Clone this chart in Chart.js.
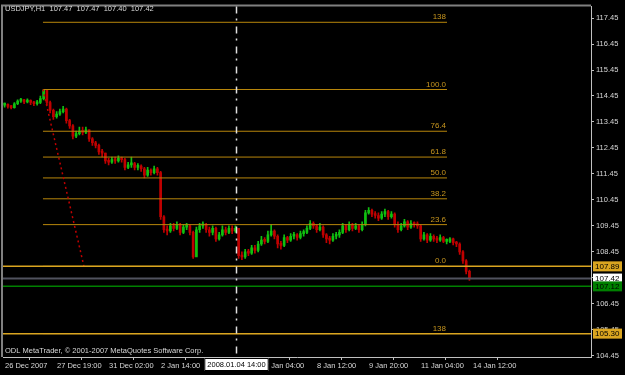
<!DOCTYPE html>
<html>
<head>
<meta charset="utf-8">
<script src="https://cdn.jsdelivr.net/npm/chart.js@4.4.1/dist/chart.umd.min.js"></script>
<style>
  body { margin: 0; background: #000; }
  #wrap { width: 625px; height: 375px; }
</style>
</head>
<body>
<div id="wrap"><canvas id="chart"></canvas></div>
<script>
// USDJPY H1, one bar per 2 hours
const closes = [
  114.12, 114.05, 114.00, 114.15, 114.25, 114.30, 114.22, 114.28, 114.20, 114.15,
  114.20, 114.35, 114.68, 114.20, 113.90, 113.65, 113.75, 113.85, 113.95, 113.50,
  113.30, 112.90, 113.00, 113.10, 113.05, 113.15, 112.80, 112.65, 112.55, 112.30,
  112.25, 111.95, 111.90, 112.00, 111.95, 112.05, 112.00, 111.70, 111.80, 111.85,
  111.70, 111.75, 111.65, 111.40, 111.60, 111.50, 111.65, 111.50, 109.80, 109.30,
  109.25, 109.45, 109.35, 109.50, 109.20, 109.40, 109.45, 109.20, 108.25, 109.30,
  109.45, 109.50, 109.30, 109.20, 109.35, 108.95, 109.10, 109.30, 109.20, 109.35,
  109.25, 109.35, 108.30, 108.25, 108.45, 108.40, 108.60, 108.50, 108.75, 108.90,
  108.85, 109.10, 109.25, 109.05, 108.75, 108.70, 109.00, 108.90, 109.05, 109.10,
  109.00, 109.15, 109.20, 109.35, 109.55, 109.45, 109.30, 109.40, 109.10, 108.95,
  108.90, 109.05, 109.10, 109.20, 109.45, 109.30, 109.50, 109.35, 109.45, 109.30,
  109.50, 109.95, 110.05, 109.90, 109.85, 109.75, 109.90, 110.00, 109.80, 109.90,
  109.50, 109.30, 109.45, 109.60, 109.40, 109.55, 109.50, 109.45, 108.95, 109.10,
  108.90, 109.05, 108.95, 108.90, 109.00, 108.85, 108.85, 108.95, 108.80, 108.75,
  108.45, 108.10, 107.70, 107.42
];
const highs = [
  114.18, 114.15, 114.08, 114.20, 114.30, 114.36, 114.32, 114.34, 114.30, 114.24,
  114.28, 114.45, 114.70, 114.68, 114.25, 113.95, 113.85, 113.95, 114.05, 113.98,
  113.55, 113.35, 113.10, 113.25, 113.25, 113.25, 113.15, 112.85, 112.70, 112.60,
  112.40, 112.25, 112.05, 112.10, 112.10, 112.15, 112.10, 112.05, 111.90, 112.10,
  111.90, 111.85, 111.80, 111.70, 111.70, 111.65, 111.75, 111.70, 111.55, 109.85,
  109.45, 109.55, 109.55, 109.60, 109.55, 109.50, 109.55, 109.50, 109.25, 109.40,
  109.55, 109.60, 109.55, 109.40, 109.45, 109.40, 109.20, 109.45, 109.40, 109.45,
  109.45, 109.45, 109.35, 108.45, 108.55, 108.55, 108.70, 108.70, 108.85, 109.05,
  109.00, 109.25, 109.50, 109.30, 109.10, 108.85, 109.10, 109.05, 109.15, 109.20,
  109.15, 109.25, 109.30, 109.45, 109.65, 109.60, 109.50, 109.55, 109.45, 109.15,
  109.05, 109.15, 109.20, 109.30, 109.55, 109.50, 109.60, 109.55, 109.55, 109.50,
  109.60, 110.05, 110.15, 110.10, 110.00, 109.95, 110.00, 110.10, 110.05, 110.00,
  109.95, 109.60, 109.55, 109.70, 109.65, 109.65, 109.60, 109.60, 109.50, 109.20,
  109.15, 109.15, 109.10, 109.05, 109.10, 109.05, 108.95, 109.00, 108.98, 108.85,
  108.80, 108.50, 108.15, 107.75
];
const lows = [
  114.02, 113.98, 113.95, 113.98, 114.12, 114.20, 114.15, 114.18, 114.12, 114.08,
  114.10, 114.15, 114.30, 114.10, 113.80, 113.55, 113.60, 113.70, 113.80, 113.40,
  113.20, 112.80, 112.85, 112.95, 112.95, 113.00, 112.70, 112.55, 112.45, 112.20,
  112.10, 111.85, 111.80, 111.85, 111.85, 111.90, 111.90, 111.60, 111.65, 111.70,
  111.60, 111.60, 111.55, 111.30, 111.35, 111.40, 111.45, 111.40, 109.70, 109.20,
  109.10, 109.20, 109.25, 109.30, 109.10, 109.15, 109.30, 109.10, 108.20, 108.30,
  109.20, 109.35, 109.20, 109.05, 109.10, 108.85, 108.90, 109.05, 109.10, 109.15,
  109.15, 109.20, 108.20, 108.15, 108.20, 108.30, 108.35, 108.40, 108.45, 108.70,
  108.75, 108.80, 109.05, 108.95, 108.60, 108.55, 108.65, 108.80, 108.85, 108.95,
  108.90, 108.95, 109.05, 109.15, 109.30, 109.35, 109.20, 109.25, 109.00, 108.80,
  108.75, 108.85, 108.95, 109.00, 109.15, 109.20, 109.25, 109.25, 109.30, 109.20,
  109.25, 109.45, 109.90, 109.80, 109.75, 109.65, 109.70, 109.80, 109.70, 109.75,
  109.40, 109.20, 109.25, 109.40, 109.30, 109.35, 109.40, 109.35, 108.85, 108.90,
  108.80, 108.85, 108.85, 108.80, 108.85, 108.80, 108.75, 108.80, 108.72, 108.65,
  108.35, 108.00, 107.60, 107.35
];
const firstOpen = 114.10;

// axis labels
const timeTicks = [-0.5, 15.5, 31.5, 47.5, 63.5, 79.5, 95.5, 111.5, 127.5, 143.5];
const timeLabels = ['26 Dec 2007', '27 Dec 19:00', '31 Dec 02:00', '2 Jan 14:00', '3 Jan 22:00',
  '7 Jan 04:00', '8 Jan 12:00', '9 Jan 20:00', '11 Jan 04:00', '14 Jan 12:00'];
const priceTicks = [104.45, 105.45, 106.45, 107.45, 108.45, 109.45, 110.45, 111.45,
  112.45, 113.45, 114.45, 115.45, 116.45, 117.45];

// fibo retracement
const fibHigh = 114.70;
const fibLow = 107.89;
const fibRatios = [0, 0.236, 0.382, 0.5, 0.618, 0.764, 1, 1.38, -0.38];
const fibLabels = ['0.0', '23.6', '38.2', '50.0', '61.8', '76.4', '100.0', '138', '138'];
const fibFrom = 11.8;
const fibTo = 136.1;

// horizontal lines with price tags
const hLinePrices = [107.89, 105.30, 107.42, 107.12];
const hLineColors = ['#daa520', '#daa520', '#50525e', '#008000'];
const hTagColors = ['#daa520', '#daa520', '#ffffff', '#008000'];

// trend line and vertical line
const trendX = [11.8, 24.4];
const trendY = [114.70, 107.89];
const vLineAt = 71.2;
const vLineLabel = '2008.01.04 14:00';

const X_MIN = -0.5, X_MAX = 180.4;
const Y_MIN = 104.40, Y_MAX = 117.896;

const opens = closes.map((c, i) => i === 0 ? firstOpen : closes[i - 1]);
const bodies = closes.map((c, i) => ({ x: i, y: [opens[i], c] }));
const wicks = closes.map((c, i) => ({ x: i, y: [lows[i], highs[i]] }));
const candleColors = closes.map((c, i) => c >= opens[i] ? '#10c010' : '#c00000');

const fibLevels = fibRatios.map(r => fibLow + (fibHigh - fibLow) * r);

const datasets = [];
fibLevels.forEach(lv => {
  datasets.push({
    type: 'line', order: 2,
    data: [{ x: fibFrom, y: lv }, { x: fibTo, y: lv }],
    borderColor: '#b8860b', borderWidth: 1, pointRadius: 0
  });
});
hLinePrices.forEach((p, i) => {
  datasets.push({
    type: 'line', order: 1,
    data: [{ x: X_MIN, y: p }, { x: X_MAX, y: p }],
    borderColor: hLineColors[i], borderWidth: i === 2 ? 2 : 1.5, pointRadius: 0
  });
});
datasets.push({
  type: 'line', order: 1,
  data: [{ x: trendX[0], y: trendY[0] }, { x: trendX[1], y: trendY[1] }],
  borderColor: '#c00000', borderWidth: 1.5, borderDash: [2, 3], pointRadius: 0
});
datasets.push({
  type: 'bar', order: 5, grouped: false,
  data: bodies,
  backgroundColor: candleColors,
  barThickness: 2,
  minBarLength: 2
});
datasets.push({
  type: 'bar', order: 6, grouped: false,
  data: wicks,
  backgroundColor: candleColors,
  barThickness: 1
});

const overlay = {
  id: 'overlay',
  beforeDraw(chart) {
    const ctx = chart.ctx;
    ctx.save();
    ctx.fillStyle = '#000';
    ctx.fillRect(0, 0, chart.width, chart.height);
    ctx.restore();
  },
  afterDraw(chart) {
    const ctx = chart.ctx;
    const xs = chart.scales.x, ys = chart.scales.y;
    const area = chart.chartArea;
    ctx.save();

    // frame on left/top
    ctx.strokeStyle = '#808080';
    ctx.lineWidth = 2;
    ctx.beginPath();
    ctx.moveTo(area.left - 1, area.bottom);
    ctx.lineTo(area.left - 1, area.top - 1);
    ctx.lineTo(area.right, area.top - 1);
    ctx.stroke();

    // fibo labels
    ctx.font = '8px "Liberation Sans", Arial, sans-serif';
    ctx.fillStyle = '#c8961e';
    ctx.textAlign = 'right';
    ctx.textBaseline = 'alphabetic';
    fibLevels.forEach((lv, i) => {
      ctx.fillText(fibLabels[i], xs.getPixelForValue(fibTo) - 1, ys.getPixelForValue(lv) - 3);
    });

    // vertical dashed line
    const vx = Math.round(xs.getPixelForValue(vLineAt)) + 0.5;
    ctx.strokeStyle = '#e0e0e0';
    ctx.lineWidth = 1.5;
    ctx.setLineDash([7, 5, 2, 6]);
    ctx.beginPath();
    ctx.moveTo(vx, area.top);
    ctx.lineTo(vx, area.bottom);
    ctx.stroke();
    ctx.setLineDash([]);

    // date tag on time axis
    ctx.font = '7.5px "Liberation Sans", Arial, sans-serif';
    const tw = ctx.measureText(vLineLabel).width + 6;
    ctx.fillStyle = '#ffffff';
    ctx.fillRect(vx - tw / 2, area.bottom + 1, tw, 13);
    ctx.strokeStyle = '#000';
    ctx.lineWidth = 1;
    ctx.strokeRect(vx - tw / 2 + 0.5, area.bottom + 1.5, tw - 1, 12);
    ctx.fillStyle = '#000';
    ctx.textAlign = 'center';
    ctx.textBaseline = 'middle';
    ctx.fillText(vLineLabel, vx, area.bottom + 8);

    // price tags
    ctx.font = '8px "Liberation Sans", Arial, sans-serif';
    ctx.textAlign = 'left';
    hLinePrices.forEach((p, i) => {
      const py = ys.getPixelForValue(p);
      ctx.fillStyle = hTagColors[i];
      ctx.fillRect(area.right + 2, py - 5, 29, 10);
      ctx.fillStyle = '#000';
      ctx.fillText(p.toFixed(2), area.right + 4, py + 0.5);
    });

    // header and copyright
    ctx.fillStyle = '#d8d8d8';
    ctx.font = '7.5px "Liberation Sans", Arial, sans-serif';
    ctx.textAlign = 'left';
    ctx.textBaseline = 'alphabetic';
    ctx.fillText('USDJPY,H1  107.47  107.47  107.40  107.42', 5, 11);
    ctx.fillText('ODL MetaTrader, \u00a9 2001-2007 MetaQuotes Software Corp.', 5, 353);
    ctx.restore();
  }
};

new Chart(document.getElementById('chart'), {
  type: 'bar',
  data: { datasets: datasets },
  options: {
    responsive: true,
    maintainAspectRatio: false,
    animation: false,
    layout: { padding: { left: 3, top: 3, right: 0, bottom: 0 } },
    plugins: { legend: { display: false }, tooltip: { enabled: false } },
    scales: {
      x: {
        type: 'linear', min: X_MIN, max: X_MAX, offset: false,
        afterFit: s => { s.height = 18; },
        afterBuildTicks: s => { s.ticks = timeTicks.map(v => ({ value: v })); },
        grid: { drawOnChartArea: false, tickLength: 3, color: '#c0c0c0' },
        border: { color: '#c0c0c0', width: 1 },
        ticks: {
          autoSkip: false, maxRotation: 0, align: 'start', padding: 1, labelOffset: 2,
          color: '#d8d8d8', font: { family: '"Liberation Sans", Arial, sans-serif', size: 7.5 },
          callback: (v, i) => timeLabels[i]
        }
      },
      y: {
        position: 'right', min: Y_MIN, max: Y_MAX,
        afterFit: s => { s.width = 34; },
        afterBuildTicks: s => { s.ticks = priceTicks.map(v => ({ value: v })); },
        grid: { drawOnChartArea: false, tickLength: 3, color: '#c0c0c0' },
        border: { color: '#c0c0c0', width: 1 },
        ticks: {
          padding: 2, color: '#d8d8d8',
          font: { family: '"Liberation Sans", Arial, sans-serif', size: 7.5 },
          callback: v => v.toFixed(2)
        }
      }
    }
  },
  plugins: [overlay]
});
</script>
</body>
</html>
